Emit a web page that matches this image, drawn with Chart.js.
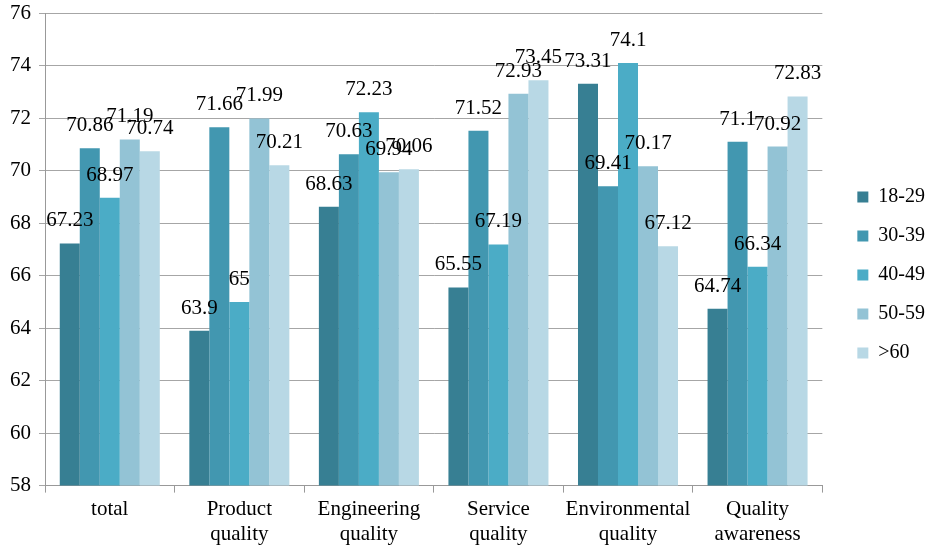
<!DOCTYPE html>
<html>
<head>
<meta charset="utf-8">
<script src="https://cdn.jsdelivr.net/npm/chart.js@4"></script>
<style>
  html, body { margin: 0; padding: 0; background: #fff; }
  #wrap { width: 930px; height: 549px; }
</style>
</head>
<body>
<div id="wrap"><canvas id="myChart"></canvas></div>
<script>
const categories = ['total', ['Product', 'quality'], ['Engineering', 'quality'], ['Service', 'quality'], ['Environmental', 'quality'], ['Quality', 'awareness']];
const seriesNames = ['18-29', '30-39', '40-49', '50-59', '>60'];
const age18to29 = [67.23, 63.9, 68.63, 65.55, 73.31, 64.74];
const age30to39 = [70.86, 71.66, 70.63, 71.52, 69.41, 71.1];
const age40to49 = [68.97, 65, 72.23, 67.19, 74.1, 66.34];
const age50to59 = [71.19, 71.99, 69.94, 72.93, 70.17, 70.92];
const age60plus = [70.74, 70.21, 70.06, 73.45, 67.12, 72.83];
const yTicks = [58, 60, 62, 64, 66, 68, 70, 72, 74, 76];

const colors = ['#377F93', '#4297B0', '#4BACC6', '#93C3D5', '#B8D8E5'];
const seriesValues = [age18to29, age30to39, age40to49, age50to59, age60plus];
const serif = '"Liberation Serif", "Times New Roman", serif';

// value labels above each bar
const valueLabels = {
    id: 'valueLabels',
    afterDatasetsDraw(chart) {
        const ctx = chart.ctx;
        ctx.save();
        ctx.font = '21px ' + serif;
        ctx.fillStyle = '#000';
        ctx.textAlign = 'center';
        ctx.textBaseline = 'alphabetic';
        chart.data.datasets.forEach((ds, i) => {
            chart.getDatasetMeta(i).data.forEach((bar, j) => {
                ctx.fillText(String(ds.data[j]), bar.x, bar.y - 17);
            });
        });
        ctx.restore();
    }
};

// push the legend a little right (and up) of where Chart.js puts it
const legendShift = {
    id: 'legendShift',
    afterLayout(chart) {
        if (chart.legend) {
            chart.legend.left += 16;
            chart.legend.right += 16;
            chart.legend.top -= 5;
            chart.legend.bottom -= 5;
        }
    }
};

document.addEventListener('DOMContentLoaded', function() {
    const ctx = document.getElementById('myChart').getContext('2d');

    const data = {
        labels: categories,
        datasets: seriesNames.map((name, i) => ({
            label: name,
            data: seriesValues[i],
            backgroundColor: colors[i],
            borderWidth: 0,
            categoryPercentage: 0.772,
            barPercentage: 1.0
        }))
    };

    new Chart(ctx, {
        type: 'bar',
        data: data,
        plugins: [valueLabels, legendShift],
        options: {
            responsive: true,
            maintainAspectRatio: false,
            animation: false,
            layout: { padding: { top: 9, right: 11, left: 2, bottom: -2 } },
            plugins: {
                tooltip: { enabled: false },
                legend: {
                    position: 'right',
                    labels: {
                        boxWidth: 11,
                        boxHeight: 11,
                        padding: 19,
                        color: '#000',
                        font: { family: serif, size: 20 }
                    }
                }
            },
            scales: {
                x: {
                    grid: { display: true, drawOnChartArea: false, drawTicks: true, tickLength: 7, color: '#999' },
                    border: { color: '#999' },
                    ticks: { color: '#000', font: { family: serif, size: 21 }, maxRotation: 0, padding: 4 }
                },
                y: {
                    min: 58,
                    max: 76,
                    afterBuildTicks: (axis) => { axis.ticks = yTicks.map(v => ({ value: v })); },
                    grid: { color: '#A6A6A6', tickLength: 6 },
                    border: { color: '#999' },
                    ticks: { color: '#000', font: { family: serif, size: 21, lineHeight: 0.5 }, padding: 8 }
                }
            }
        }
    });
});
</script>
</body>
</html>
